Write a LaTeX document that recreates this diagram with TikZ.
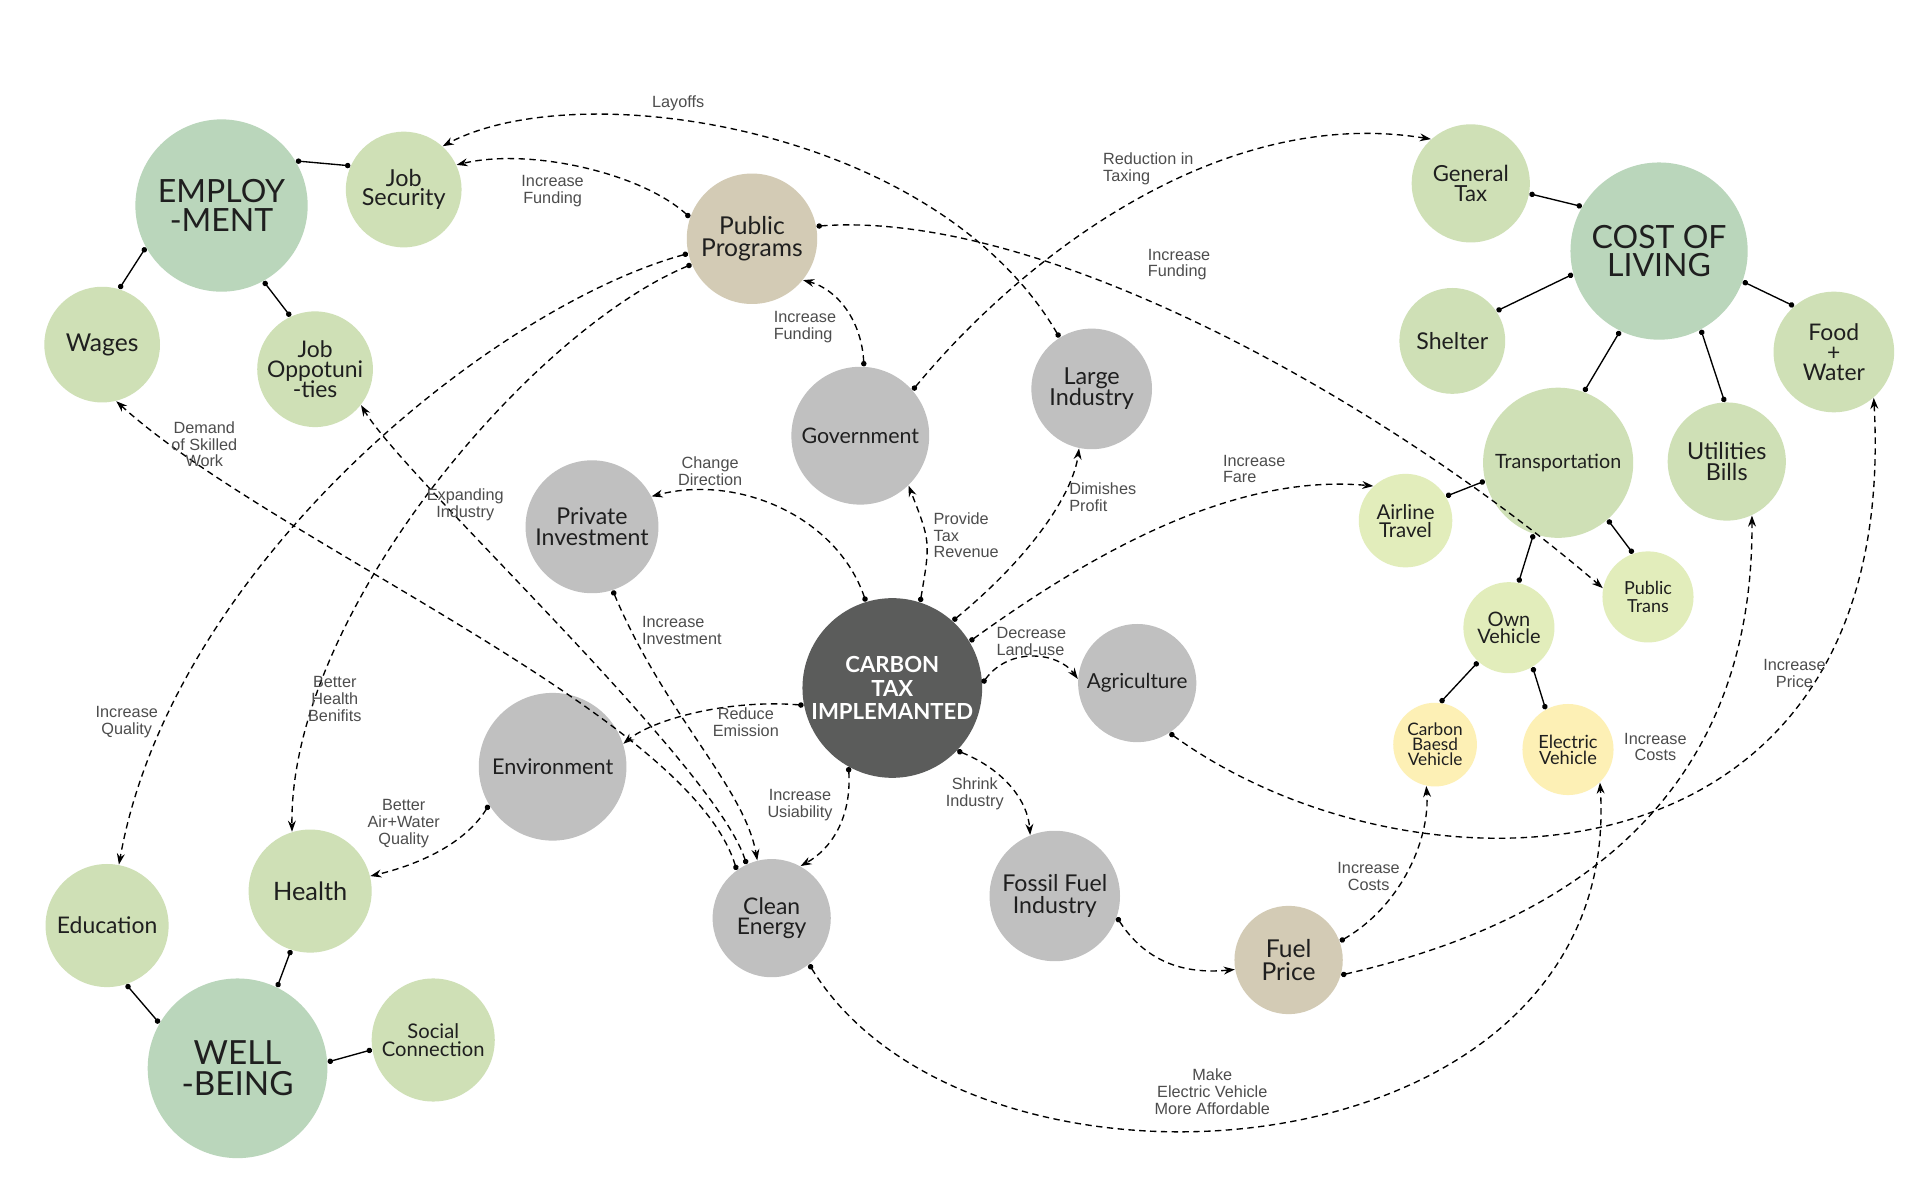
\documentclass[tikz,border=0pt]{standalone}
\usepackage{fontspec}
\setmainfont{Lato}
\newfontfamily\lblfont{Liberation Sans}
\usetikzlibrary{arrows.meta}
\definecolor{cBig}{HTML}{BAD6BB}
\definecolor{cMid}{HTML}{CFE0B6}
\definecolor{cPale}{HTML}{E2EDBB}
\definecolor{cYel}{HTML}{FDF0B5}
\definecolor{cGry}{HTML}{C0C0C0}
\definecolor{cTan}{HTML}{D3CBB5}
\definecolor{cDark}{HTML}{5B5C5B}
\definecolor{cLbl}{HTML}{4D4D4D}
\begin{document}
\setlength{\lineskiplimit}{-20pt}
\begin{tikzpicture}[x=0.5pt,y=-0.5pt,
  bub/.style={circle,inner sep=0pt,align=center,text=black!88},
  big/.style={bub,fill=cBig},
  mid/.style={bub,fill=cMid},
  pale/.style={bub,fill=cPale},
  yelb/.style={bub,fill=cYel},
  gryb/.style={bub,fill=cGry},
  tanb/.style={bub,fill=cTan},
  fs/.style 2 args={font={\fontsize{#1}{#2}\selectfont}},
  lbl/.style={font={\lblfont\fontsize{6.6}{6.8}\selectfont},text=cLbl,inner sep=0pt,align=center},
  lblL/.style={lbl,align=left},
  dconn/.style={line width=0.55pt,dash pattern=on 2.6pt off 1.8pt,{Circle[length=2.2pt]}-{Stealth[length=4.5pt,width=3.2pt]}},
  sconn/.style={line width=0.55pt,{Circle[length=2.2pt]}-{Circle[length=2.2pt]}}
]
\fill[white] (0,0) rectangle (1560,972);
\useasboundingbox (0,0) rectangle (1560,972);

% ---- nodes ----
\node[big,fs={13}{11.5},minimum size=70pt] (emp) at (180,167) {EMPLOY\\-MENT};
\node[mid,fs={9.5}{8},minimum size=47pt] (jobsec) at (328,154) {Job\\Security};
\node[mid,fs={10}{10},minimum size=47pt] (wages) at (83,280) {Wages};
\node[mid,fs={9.3}{8.1},minimum size=47pt] (jobopp) at (256,300) {Job\\Oppotuni\\-ties};
\node[tanb,fs={10}{8.7},minimum size=53pt] (pubprog) at (611,194) {Public\\Programs};
\node[gryb,fs={8.7}{8.7},minimum size=56pt] (gov) at (699,354) {Government};
\node[gryb,fs={9.5}{8.4},minimum size=49pt] (large) at (887,316) {Large\\Industry};
\node[gryb,fs={9.4}{8.5},minimum size=54pt] (privinv) at (481,428) {Private\\Investment};
\node[bub,fill=cDark,text=white,font={\bfseries\fontsize{9}{9.4}\selectfont},minimum size=73pt] (carbon) at (725,559) {CARBON\\TAX\\IMPLEMANTED};
\node[gryb,fs={8.4}{8.4},minimum size=48pt] (agri) at (924,555) {Agriculture};
\node[gryb,fs={8.8}{8.8},minimum size=60pt] (env) at (449,623) {Environment};
\node[gryb,fs={9.3}{8},minimum size=48pt] (clean) at (627,746) {Clean\\Energy};
\node[gryb,fs={9.4}{8.7},minimum size=53pt] (fossil) at (857,728) {Fossil Fuel\\Industry};
\node[tanb,fs={10}{9.4},minimum size=44pt] (fuel) at (1047,780) {Fuel\\Price};
\node[mid,fs={10.3}{10},minimum size=50pt] (health) at (252,724) {Health};
\node[mid,fs={9.3}{9},minimum size=50pt] (edu) at (87,752) {Education};
\node[big,fs={13.5}{12.3},minimum size=73pt] (well) at (193,868) {WELL\\-BEING};
\node[mid,fs={8.2}{7.3},minimum size=50pt] (social) at (352,845) {Social\\Connection};
\node[mid,fs={9}{8.3},minimum size=48pt] (gentax) at (1195,149) {General\\Tax};
\node[big,fs={13}{11.6},minimum size=72pt] (cost) at (1348,204) {COST OF\\LIVING};
\node[mid,fs={9.4}{9},minimum size=43pt] (shelter) at (1180,277) {Shelter};
\node[mid,fs={9.3}{8},minimum size=49pt] (food) at (1490,286) {Food\\+\\Water};
\node[mid,fs={8}{8},minimum size=61pt] (trans) at (1266,376) {Transportation};
\node[mid,fs={9.5}{8.3},minimum size=48pt] (util) at (1403,375) {Utilities\\Bills};
\node[pale,fs={8.3}{7.3},minimum size=38pt] (airline) at (1142,423) {Airline\\Travel};
\node[pale,fs={7.3}{7.4},minimum size=37pt] (pubtrans) at (1339,485) {Public\\Trans};
\node[pale,fs={8.1}{7.1},minimum size=37pt] (ownveh) at (1226,510) {Own\\Vehicle};
\node[yelb,fs={7}{6.1},minimum size=34pt] (cbv) at (1166,605) {Carbon\\Baesd\\Vehicle};
\node[yelb,fs={7.4}{6.4},minimum size=37pt] (ev) at (1274,609) {Electric\\Vehicle};

% ---- solid links ----
\draw[sconn] (emp.31) -- (jobsec.156);
\draw[sconn] (emp.209) -- (wages.73);
\draw[sconn] (emp.-61) -- (jobopp.115);
\draw[sconn] (cost.150) -- (gentax.-10);
\draw[sconn] (cost.195) -- (shelter.34);
\draw[sconn] (cost.244) -- (trans.70);
\draw[sconn] (cost.-62) -- (util.92);
\draw[sconn] (cost.-20) -- (food.131);
\draw[sconn] (trans.194) -- (airline.31);
\draw[sconn] (trans.251) -- (ownveh.78);
\draw[sconn] (trans.-49) -- (pubtrans.109);
\draw[sconn] (ownveh.228) -- (cbv.83);
\draw[sconn] (ownveh.-59) -- (ev.119);
\draw[sconn] (well.150) -- (edu.-72);
\draw[sconn] (well.64) -- (health.252);
\draw[sconn] (well.4) -- (social.189);

% ---- dashed links ----
\draw[dconn] (large.122) .. controls (760,102) and (470,60) .. (jobsec.48);
\draw[dconn] (pubprog.161) .. controls (520,140) and (430,120) .. (jobsec.25);
\draw[dconn] (pubprog.11) .. controls (850,170) and (1130,330) .. (pubtrans.169);
\draw[dconn] (gov.41) .. controls (830,210) and (990,85) .. (gentax.132);
\draw[dconn] (gov.87) .. controls (700,260) and (680,235) .. (pubprog.-39);
\draw[dconn] (carbon.72) .. controls (756,440) .. (gov.-46);
\draw[dconn] (carbon.48) .. controls (840,450) and (872,400) .. (large.-102);
\draw[dconn] (carbon.107) .. controls (680,420) and (600,385) .. (privinv.27);
\draw[dconn] (carbon.31) .. controls (900,440) and (1010,385) .. (airline.133);
\draw[dconn] (carbon.3) .. controls (820,525) and (860,530) .. (agri.176);
\draw[dconn] (carbon.191) .. controls (590,568) and (530,585) .. (env.18);
\draw[dconn] (carbon.241) .. controls (692,665) and (675,690) .. (clean.61);
\draw[dconn] (carbon.-44) .. controls (815,625) and (835,650) .. (fossil.112);
\draw[dconn] (privinv.-72) .. controls (540,580) and (605,640) .. (clean.104);
\draw[dconn] (clean.126) .. controls (560,580) and (220,440) .. (wages.-76);
\draw[dconn] (clean.115) .. controls (580,620) and (330,390) .. (jobopp.-38);
\draw[dconn] (pubprog.193) .. controls (400,250) and (140,460) .. (edu.79);
\draw[dconn] (pubprog.203) .. controls (430,270) and (235,500) .. (health.107);
\draw[dconn] (env.211) .. controls (375,690) and (330,705) .. (health.14);
\draw[dconn] (fossil.-19) .. controls (930,780) and (960,792) .. (fuel.190);
\draw[dconn] (fuel.20) .. controls (1140,735) and (1162,680) .. (cbv.258);
\draw[dconn] (fuel.-16) .. controls (1230,760) and (1425,680) .. (util.-65);
\draw[dconn] (agri.-57) .. controls (1150,740) and (1545,730) .. (food.-49);
\draw[dconn] (clean.-51) .. controls (790,1000) and (1320,960) .. (ev.-46);

% ---- labels ----
\node[lbl] (l1) at (551,84) {Layoffs};
\node[lbl] (l2) at (449,155) {Increase\\Funding};
\node[lblL] (l3) at (933,137) {Reduction in\\Taxing};
\node[lblL] (l4) at (958,215) {Increase\\Funding};
\node[lblL] (l5) at (654,266) {Increase\\Funding};
\node[lblL] (l6) at (785,435) {Provide\\Tax\\Revenue};
\node[lblL] (l7) at (896,404) {Dimishes\\Profit};
\node[lblL] (l8) at (1019,381) {Increase\\Fare};
\node[lbl] (l9) at (577,383) {Change\\Direction};
\node[lblL] (l10) at (554,512) {Increase\\Investment};
\node[lblL] (l11) at (838,521) {Decrease\\Land-use};
\node[lbl] (l12) at (606,587) {Reduce\\Emission};
\node[lbl] (l13) at (650,654) {Increase\\Usiability};
\node[lbl] (l14) at (792,645) {Shrink\\Industry};
\node[lbl] (l15) at (166,361) {Demand\\of Skilled\\Work};
\node[lbl] (l16) at (378,410) {Expanding\\Industry};
\node[lbl] (l17) at (103,587) {Increase\\Quality};
\node[lbl] (l18) at (272,568) {Better\\Health\\Benifits};
\node[lbl] (l19) at (328,669) {Better\\Air+Water\\Quality};
\node[lbl] (l20) at (1112,712) {Increase\\Costs};
\node[lbl] (l21) at (1345,607) {Increase\\Costs};
\node[lbl] (l22) at (1458,547) {Increase\\Price};
\node[lbl] (l23) at (985,887) {Make\\Electric Vehicle\\More Affordable};
\end{tikzpicture}
\end{document}
